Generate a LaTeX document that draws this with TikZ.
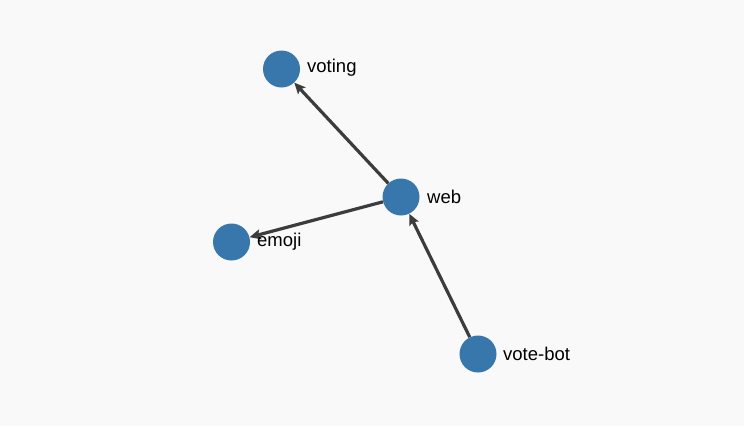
\documentclass[tikz,border=0pt]{standalone}
\usepackage{fontspec}
\setmainfont{Liberation Sans}
\usetikzlibrary{arrows.meta}
\definecolor{bgc}{HTML}{F9F9F9}
\definecolor{nodec}{HTML}{3777AB}
\definecolor{edgec}{HTML}{3C3C3C}
\tikzset{
  vert/.style={circle,fill=nodec,draw=none,minimum size=37pt,inner sep=0pt},
  lbl/.style={anchor=west,inner sep=0pt,font=\fontsize{18.5pt}{20pt}\selectfont,text=black},
  edge/.style={draw=edgec,line width=3.2pt,-{Stealth[length=11pt,width=10pt,inset=2pt]}}
}
\begin{document}
\begin{tikzpicture}[x=1pt,y=-1pt]
\fill[bgc] (0,0) rectangle (744,426);
\useasboundingbox (0,0) rectangle (744,426);
\node[vert] (voting) at (281.5,69) {};
\node[vert] (web) at (401,197) {};
\node[vert] (emoji) at (231.5,242) {};
\node[vert] (votebot) at (478,354) {};
\draw[edge] (web) -- (voting);
\draw[edge] (web) -- (emoji);
\draw[edge] (votebot) -- (web);
\node[lbl] (lvoting) at (307,68) {voting};
\node[lbl] (lweb) at (427,197) {web};
\node[lbl] (lemoji) at (257,242) {emoji};
\node[lbl] (lvotebot) at (503,354) {vote-bot};
\end{tikzpicture}
\end{document}
